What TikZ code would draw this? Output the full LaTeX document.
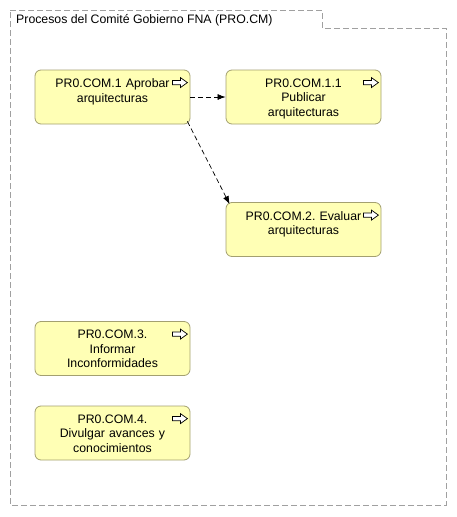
\documentclass[tikz,border=0pt]{standalone}
\usepackage{fontspec}
\setmainfont{Liberation Sans}
\usetikzlibrary{arrows.meta,positioning}
\definecolor{procfill}{HTML}{FFFFB5}
\definecolor{procline}{HTML}{A3A070}
\definecolor{grupo}{HTML}{A0A0A0}
\frenchspacing
\tikzset{
	proceso/.style={draw=procline, fill=procfill, rounded corners=6pt, line width=0.8pt,
		minimum width=155pt, minimum height=54pt, inner sep=0pt},
	texto/.style={font=\fontsize{12.3pt}{14.5pt}\selectfont, align=center,
		inner sep=0pt, text width=150pt},
	flujo/.style={dash pattern=on 5pt off 3pt, line width=0.7pt, -{Latex[length=8pt,width=6pt]}},
	icono/.pic={
		\draw[fill=white, line width=0.7pt] (0,-2.2) -- (8,-2.2) -- (8,-5) -- (15,0)
			-- (8,5) -- (8,2.2) -- (0,2.2) -- cycle;
	}
}
\begin{document}
\begin{tikzpicture}[x=1pt, y=-1pt]
	\useasboundingbox (0,0) rectangle (457,517);
	\draw[grupo, dash pattern=on 6pt off 3pt] (10,10) -- (322,10) -- (322,28)
		-- (446,28) -- (446,505) -- (10,505) -- cycle;
	\node[anchor=base west, font=\fontsize{12.3pt}{14pt}\selectfont, inner sep=0pt]
		(titulo) at (16,23) {Procesos del Comité Gobierno FNA (PRO.CM)};

	\node[proceso] (p1) at (112.5,97) {};
	\node[proceso] (p11) at (303.5,97) {};
	\node[proceso] (p2) at (303.5,229.5) {};
	\node[proceso] (p3) at (112.5,348.5) {};
	\node[proceso] (p4) at (112.5,433) {};

	\node[texto, below=9pt of p1.north] (p1t) {PR0.COM.1 Aprobar\\arquitecturas};
	\node[texto, below=9pt of p11.north] (p11t) {PR0.COM.1.1\\Publicar\\arquitecturas};
	\node[texto, below=9pt of p2.north] (p2t) {PR0.COM.2. Evaluar\\arquitecturas};
	\node[texto, below=9pt of p3.north] (p3t) {PR0.COM.3.\\Informar\\Inconformidades};
	\node[texto, below=9pt of p4.north] (p4t) {PR0.COM.4.\\Divulgar avances y\\conocimientos};

	\foreach \p in {p1,p11,p2,p3,p4}
		\pic at ([xshift=-18pt,yshift=-13pt]\p.north east) {icono};

	\coordinate (a1) at ([xshift=-3pt,yshift=3pt]p1.south east);
	\coordinate (a2) at ([xshift=4pt,yshift=-2pt]p2.north west);
	\draw[flujo] (p1.east) -- (p11.west);
	\draw[flujo] (a1) -- (a2);
\end{tikzpicture}
\end{document}
